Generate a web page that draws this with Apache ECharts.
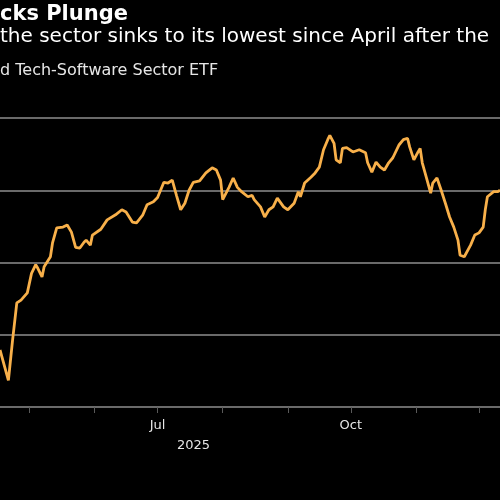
<!DOCTYPE html>
<html>
<head>
<meta charset="utf-8">
<script src="https://cdn.jsdelivr.net/npm/echarts@6/dist/echarts.min.js"></script>
<style>
html,body{margin:0;padding:0;background:#000;}
#c{width:500px;height:500px;}
</style>
</head>
<body>
<div id="c"></div>
<script>
const titleText = "cks Plunge";
const subtitleText = "the sector sinks to its lowest since April after the";
const sourceText = "d Tech-Software Sector ETF";
const yearLabel = "2025";

const dates = [
"2025-04-17","2025-04-21","2025-04-23","2025-04-25","2025-04-27","2025-04-30","2025-05-02","2025-05-04","2025-05-05","2025-05-07",
"2025-05-08","2025-05-11","2025-05-12","2025-05-14","2025-05-17","2025-05-19","2025-05-21","2025-05-23","2025-05-25","2025-05-27",
"2025-05-28","2025-05-30","2025-05-31","2025-06-04","2025-06-07","2025-06-11","2025-06-14","2025-06-16","2025-06-19","2025-06-21",
"2025-06-24","2025-06-26","2025-06-29","2025-07-01","2025-07-04","2025-07-06","2025-07-08","2025-07-10","2025-07-12","2025-07-14",
"2025-07-16","2025-07-18","2025-07-21","2025-07-24","2025-07-27","2025-07-29","2025-07-31","2025-08-01","2025-08-04","2025-08-06",
"2025-08-08","2025-08-10","2025-08-13","2025-08-15","2025-08-16","2025-08-19","2025-08-21","2025-08-23","2025-08-25","2025-08-27",
"2025-08-30","2025-09-01","2025-09-04","2025-09-06","2025-09-07","2025-09-09","2025-09-12","2025-09-14","2025-09-16","2025-09-18",
"2025-09-20","2025-09-21","2025-09-23","2025-09-24","2025-09-26","2025-09-27","2025-09-29","2025-10-02","2025-10-05","2025-10-08",
"2025-10-09","2025-10-11","2025-10-13","2025-10-15","2025-10-17","2025-10-19","2025-10-21","2025-10-24","2025-10-26","2025-10-28",
"2025-10-29","2025-10-31","2025-11-02","2025-11-03","2025-11-04","2025-11-06","2025-11-08","2025-11-09","2025-11-11","2025-11-13",
"2025-11-15","2025-11-17","2025-11-19","2025-11-21","2025-11-22","2025-11-24","2025-11-27","2025-11-29","2025-12-01","2025-12-03",
"2025-12-04","2025-12-05","2025-12-08","2025-12-10","2025-12-11"
];
const prices = [
87.9,83.7,89.3,94.4,94.8,95.8,98.5,99.7,99.2,98.0,
99.4,100.8,102.7,104.8,104.9,105.2,104.2,102.1,102.0,102.8,
103.1,102.4,103.8,104.6,105.9,106.6,107.3,107.0,105.6,105.5,
106.6,108.0,108.4,109.0,111.1,111.0,111.4,109.3,107.3,108.2,
110.0,111.1,111.3,112.4,113.1,112.8,111.4,108.7,110.4,111.7,
110.4,109.8,109.1,109.3,108.7,107.7,106.3,107.3,107.7,108.9,
107.7,107.3,108.2,109.8,109.1,111.0,111.8,112.4,113.2,115.6,
117.0,117.6,116.5,114.2,113.8,115.8,115.9,115.3,115.6,115.2,
113.8,112.5,113.9,113.2,112.8,113.8,114.5,116.3,117.0,117.2,
116.0,114.2,115.3,115.8,113.8,111.7,109.6,111.0,111.7,110.0,
108.2,106.3,104.9,103.1,101.0,100.8,102.4,103.8,104.1,104.9,
107.3,109.1,109.8,109.8,110.0
];
const monthTicks = ["2025-05-01","2025-06-01","2025-07-01","2025-08-01","2025-09-01","2025-10-01","2025-11-01","2025-12-01"];
const labelTicks = ["2025-07-01","2025-10-01"];
const monthNames = ["Jan","Feb","Mar","Apr","May","Jun","Jul","Aug","Sep","Oct","Nov","Dec"];

const ts = s => new Date(s + "T00:00:00Z").getTime();

const chart = echarts.init(document.getElementById('c'), null, {renderer:'canvas'});
chart.setOption({
  backgroundColor: '#000',
  animation: false,
  grid: {left: 0, right: 0, top: 118, bottom: 93, containLabel: false},
  xAxis: {
    type: 'value',
    min: ts("2025-04-17"),
    max: ts("2025-12-11"),
    axisLine: {show: true, lineStyle: {color: '#6a6a6a', width: 2}},
    axisTick: {show: true, inside: false, length: 6, customValues: monthTicks.map(ts), lineStyle: {color: '#5a5a5a', width: 1}},
    axisLabel: {
      show: true,
      customValues: labelTicks.map(ts),
      formatter: v => monthNames[new Date(v).getUTCMonth()],
      color: '#e6e6e6',
      fontFamily: 'DejaVu Sans',
      fontSize: 13,
      margin: 12
    },
    splitLine: {show: false}
  },
  yAxis: {
    type: 'value',
    min: 80, max: 120, interval: 10,
    axisLine: {show: false},
    axisTick: {show: false},
    axisLabel: {show: false},
    splitLine: {show: true, lineStyle: {color: '#6a6a6a', width: 2}}
  },
  series: [{
    type: 'line',
    data: dates.map((d, i) => [ts(d), prices[i]]),
    showSymbol: false,
    clip: false,
    lineStyle: {color: '#f8b04a', width: 2.8},
    smooth: false
  }],
  graphic: [
    {type: 'text', left: 0, top: 4, style: {text: titleText, fill: '#ffffff', font: 'bold 21px "DejaVu Sans"'}},
    {type: 'text', left: 0, top: 27, style: {text: subtitleText, fill: '#ffffff', font: '20px "DejaVu Sans"'}},
    {type: 'text', left: 0, top: 63, style: {text: sourceText, fill: '#e6e6e6', font: '16px "DejaVu Sans"'}},
    {type: 'text', left: 177, top: 439, style: {text: yearLabel, fill: '#e6e6e6', font: '13px "DejaVu Sans"'}}
  ]
});
</script>
</body>
</html>
